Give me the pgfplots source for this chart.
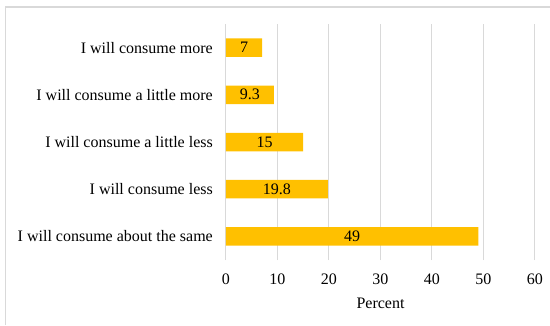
\documentclass[border=0pt]{standalone}
\usepackage{pgfplots}
\usepackage{pgfplotstable}
\pgfplotsset{compat=1.18}
\usepackage{fontspec}
\setmainfont{Liberation Serif}

\definecolor{bargold}{HTML}{FFC000}
\definecolor{gridgray}{HTML}{D9D9D9}

\pgfplotstableread{
idx value
0 49
1 19.8
2 15
3 9.3
4 7
}\consumption

\newcommand{\chartfont}{\fontsize{16}{19}\selectfont}

\begin{document}
\begin{tikzpicture}[x=1pt,y=1pt]
\useasboundingbox (0,0) rectangle (550,325);
% chart frame
\draw[gridgray, line width=1.2pt] (5.5,0) -- (5.5,318) -- (550,318);
\begin{axis}[
  at={(226pt,65pt)}, anchor=south west,
  scale only axis, width=309pt, height=236pt,
  xmin=0, xmax=60, xtick={0,10,...,60},
  ymin=-0.5, ymax=4.5,
  ytick={0,1,2,3,4},
  yticklabels={I will consume about the same, I will consume less, I will consume a little less, I will consume a little more, I will consume more},
  axis line style={draw=none},
  major tick length=0pt,
  xmajorgrids, grid style={gridgray, line width=1pt},
  tick label style={font=\chartfont, inner sep=0pt},
  /pgf/number format/assume math mode=true,
  xticklabel style={anchor=center, yshift=-19pt},
  yticklabel style={anchor=east, xshift=-13pt},
  xlabel={Percent},
  xlabel style={font=\chartfont, at={(axis description cs:0.5,0)}, anchor=center, yshift=-43pt},
]
\addplot[xbar, bar width=18.5pt, fill=bargold, draw=none] table[x=value, y=idx] {\consumption};
% value labels at the middle of each bar
\addplot[only marks, mark=none,
  nodes near coords, point meta=explicit,
  every node near coord/.append style={font=\chartfont, black, anchor=center, inner sep=0pt}]
  table[x expr=\thisrow{value}/2, y=idx, meta=value] {\consumption};
\end{axis}
\end{tikzpicture}
\end{document}
